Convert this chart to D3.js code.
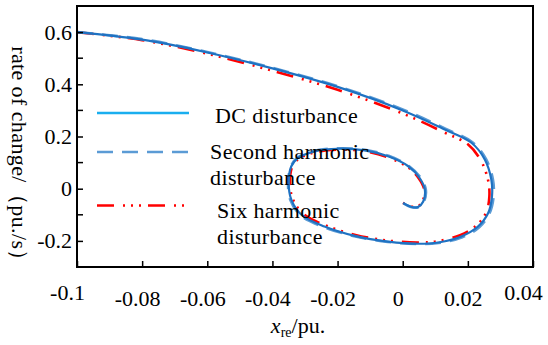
<!DOCTYPE html>
<html>
<head>
<meta charset="utf-8">
<script src="https://cdn.jsdelivr.net/npm/d3@7"></script>
<style>
  body { margin: 0; background: #fff; }
  svg { display: block; }
</style>
</head>
<body>
<div id="chart"></div>
<script>
// values
var dcX = [-0.1, -0.08, -0.06, -0.04, -0.02, 0, 0.0129, 0.0211, 0.0252, 0.0272, 0.0274, 0.0262, 0.0231, 0.018, 0.0109, 0.0047, -0.0045, -0.0147, -0.024, -0.0311, -0.0342, -0.035, -0.0342, -0.0321, -0.027, -0.0198, -0.0117, -0.0045, 0.0017, 0.0052, 0.0068, 0.0063, 0.0047, 0.0027, 0.0001];
var dcY = [0.6, 0.571, 0.522, 0.461, 0.39, 0.3, 0.227, 0.176, 0.112, 0.035, -0.03, -0.094, -0.145, -0.183, -0.206, -0.211, -0.203, -0.181, -0.145, -0.1, -0.042, 0.022, 0.086, 0.118, 0.143, 0.153, 0.147, 0.124, 0.086, 0.041, -0.004, -0.049, -0.07, -0.07, -0.055];

var secX = [-0.1, -0.08, -0.06, -0.04, -0.02, 0, 0.0131, 0.0214, 0.0256, 0.0277, 0.0279, 0.0266, 0.0235, 0.0183, 0.011, 0.0047, -0.0046, -0.0149, -0.0243, -0.0314, -0.0345, -0.0352, -0.0343, -0.0322, -0.0271, -0.0198, -0.0116, -0.0043, 0.0019, 0.0055, 0.0071, 0.0065, 0.0048, 0.0027, 0.0001];
var secY = [0.6, 0.573, 0.524, 0.463, 0.393, 0.304, 0.23, 0.178, 0.113, 0.035, -0.031, -0.096, -0.148, -0.186, -0.208, -0.212, -0.204, -0.182, -0.147, -0.102, -0.043, 0.022, 0.087, 0.12, 0.145, 0.155, 0.149, 0.126, 0.087, 0.042, -0.004, -0.05, -0.071, -0.071, -0.055];

var sixX = [-0.1, -0.08, -0.06, -0.04, -0.02, 0, 0.0125, 0.02, 0.024, 0.0262, 0.0266, 0.0256, 0.0226, 0.0176, 0.0107, 0.0045, -0.0045, -0.0145, -0.0236, -0.0305, -0.0337, -0.0346, -0.0339, -0.0318, -0.0268, -0.0197, -0.0117, -0.0047, 0.0014, 0.0049, 0.0066, 0.0061, 0.0046, 0.0026, 0.0001];
var sixY = [0.6, 0.569, 0.517, 0.452, 0.379, 0.288, 0.217, 0.17, 0.108, 0.033, -0.03, -0.092, -0.141, -0.178, -0.201, -0.206, -0.199, -0.177, -0.141, -0.097, -0.041, 0.022, 0.085, 0.116, 0.14, 0.15, 0.144, 0.121, 0.084, 0.04, -0.004, -0.048, -0.068, -0.068, -0.054];

var xTicks = [-0.1, -0.08, -0.06, -0.04, -0.02, 0, 0.02, 0.04];
var xTickLabels = ['-0.1', '-0.08', '-0.06', '-0.04', '-0.02', '0', '0.02', '0.04'];
var yTicks = [-0.2, 0, 0.2, 0.4, 0.6];
var yTickLabels = ['-0.2', '0', '0.2', '0.4', '0.6'];
var yMinorTicks = [-0.1, 0.1, 0.3, 0.5];

var legendNames = [['DC disturbance'], ['Second harmonic', 'disturbance'], ['Six harmonic', 'disturbance']];

var FONT = '"Liberation Serif", "Times New Roman", Times, "DejaVu Serif", serif';

var width = 548, height = 345;
var margin = {left: 77, right: 15, top: 6, bottom: 78};

var svg = d3.select('#chart').append('svg')
    .attr('width', width)
    .attr('height', height)
    .attr('font-family', FONT);

var x = d3.scaleLinear().domain([-0.1, 0.04]).range([margin.left, width - margin.right]);
var y = d3.scaleLinear().domain([-0.3, 0.7]).range([height - margin.bottom, margin.top]);

function zip(xs, ys) {
    return xs.map(function(v, i) { return [v, ys[i]]; });
}

var series = [
    {pts: zip(sixX, sixY), color: '#ff0000', w: 2.6, dash: '17,9,2,6,2,6,2,7'},
    {pts: zip(secX, secY), color: '#5b9bd5', w: 2.6, dash: '16,9'},
    {pts: zip(dcX, dcY), color: '#1f72c2', w: 2.2, dash: null}
];

var line = d3.line()
    .x(function(d) { return x(d[0]); })
    .y(function(d) { return y(d[1]); })
    .curve(d3.curveCatmullRom.alpha(0.5));

svg.append('g').selectAll('path')
    .data(series)
    .enter().append('path')
    .attr('d', function(d) { return line(d.pts); })
    .attr('fill', 'none')
    .attr('stroke', function(d) { return d.color; })
    .attr('stroke-width', function(d) { return d.w; })
    .attr('stroke-dasharray', function(d) { return d.dash; });

// axes, ticks inward
var xAxis = d3.axisBottom(x).tickValues(xTicks).tickSize(-6).tickSizeOuter(0)
    .tickFormat(function(d, i) { return xTickLabels[i]; });
var gx = svg.append('g')
    .attr('transform', 'translate(0,' + (height - margin.bottom) + ')')
    .call(xAxis)
    .attr('font-family', FONT).attr('font-size', 22);
gx.selectAll('text')
    .attr('fill', '#000')
    .attr('dx', function(d, i) { return (i === 0 || i === xTicks.length - 1) ? -10 : -5; })
    .attr('y', function(d, i) { return (i === 0 || i === xTicks.length - 1) ? 17 : 23; });

var yAxis = d3.axisLeft(y).tickValues(yTicks).tickSize(-6).tickSizeOuter(0)
    .tickFormat(function(d, i) { return yTickLabels[i]; });
var gy = svg.append('g')
    .attr('transform', 'translate(' + margin.left + ',0)')
    .call(yAxis)
    .attr('font-family', FONT).attr('font-size', 22);
gy.selectAll('text')
    .attr('fill', '#000')
    .attr('x', -5);

svg.append('g').selectAll('line')
    .data(yMinorTicks)
    .enter().append('line')
    .attr('x1', margin.left).attr('x2', margin.left + 6)
    .attr('y1', function(d) { return y(d); })
    .attr('y2', function(d) { return y(d); })
    .attr('stroke', '#000').attr('stroke-width', 1.5);

svg.selectAll('.tick line').attr('stroke', '#000').attr('stroke-width', 1.5);
svg.selectAll('.domain').remove();

// frame
svg.append('rect')
    .attr('x', margin.left).attr('y', margin.top)
    .attr('width', width - margin.left - margin.right)
    .attr('height', height - margin.top - margin.bottom)
    .attr('fill', 'none').attr('stroke', '#000').attr('stroke-width', 2);

// legend
var legLines = [113, 152, 205.5];
var legText = [{x: 215, y: [122.5]}, {x: 210, y: [158.5, 185]}, {x: 217, y: [218, 244]}];
var lg = svg.append('g').attr('font-size', 22);
series.slice().reverse().forEach(function(s, i) {
    lg.append('line')
        .attr('x1', 97).attr('x2', 189)
        .attr('y1', legLines[i]).attr('y2', legLines[i])
        .attr('stroke', i === 0 ? '#1aaeef' : s.color)
        .attr('stroke-width', 2.6)
        .attr('stroke-dasharray', s.dash);
    legendNames[i].forEach(function(t, j) {
        lg.append('text')
            .attr('x', legText[i].x).attr('y', legText[i].y[j])
            .attr('letter-spacing', 0.4)
            .text(t);
    });
});

// axis titles
var xt = svg.append('text')
    .attr('x', 298).attr('y', 333)
    .attr('text-anchor', 'middle')
    .attr('font-size', 22);
xt.append('tspan').attr('font-style', 'italic').text('x');
xt.append('tspan').attr('font-size', 14).attr('dy', 4).text('re');
xt.append('tspan').attr('dy', -4).text('/pu.');

svg.append('text')
    .attr('transform', 'translate(12,159) rotate(90)')
    .attr('text-anchor', 'middle')
    .attr('font-size', 22)
    .attr('letter-spacing', 0.4)
    .text('rate of change/（pu./s）');
</script>
</body>
</html>
